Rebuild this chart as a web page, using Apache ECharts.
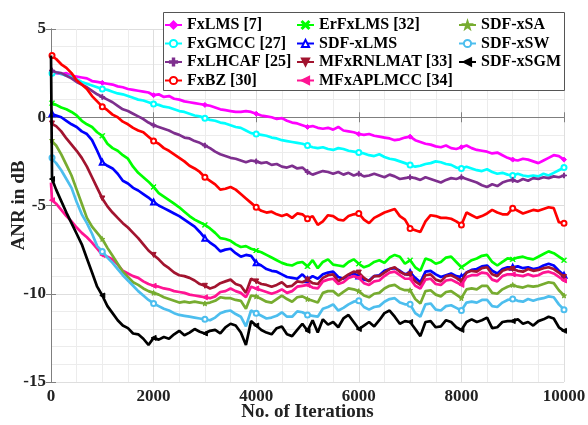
<!DOCTYPE html>
<html>
<head>
<meta charset="utf-8">
<script src="https://cdn.jsdelivr.net/npm/echarts@6/dist/echarts.min.js"></script>
<style>html,body{margin:0;padding:0;background:#fff;}#c{width:588px;height:425px;}</style>
</head>
<body>
<div id="c"></div>
<script>
const iterations = [0,20,
100,200,300,400,500,600,700,800,900,1000,
1100,1200,1300,1400,1500,1600,1700,1800,1900,2000,
2100,2200,2300,2400,2500,2600,2700,2800,2900,3000,
3100,3200,3300,3400,3500,3600,3700,3800,3900,4000,
4100,4200,4300,4400,4500,4600,4700,4800,4900,5000,
5100,5200,5300,5400,5500,5600,5700,5800,5900,6000,
6100,6200,6300,6400,6500,6600,6700,6800,6900,7000,
7100,7200,7300,7400,7500,7600,7700,7800,7900,8000,
8100,8200,8300,8400,8500,8600,8700,8800,8900,9000,
9100,9200,9300,9400,9500,9600,9700,9800,9900,10000];

const xTicks = [0,2000,4000,6000,8000,10000];
const yTicks = [-15,-10,-5,0,5];

const seriesNames = ['FxLMS [7]','FxGMCC [27]','FxLHCAF [25]','FxBZ [30]','ErFxLMS [32]','SDF-xLMS','MFxRNLMAT [33]','MFxAPLMCC [34]','SDF-xSA','SDF-xSW','SDF-xSGM'];

const fxlms = [2.55,2.55,
2.5,2.45,2.5,2.35,2.3,2.25,2.2,2.05,2.0,1.95,
1.9,1.85,1.75,1.7,1.6,1.55,1.5,1.45,1.4,1.25,
1.3,1.15,1.2,1.05,1.0,0.9,0.85,0.8,0.75,0.7,
0.65,0.55,0.45,0.4,0.35,0.3,0.3,0.35,0.3,0.2,
0.1,0.05,0.0,-0.1,-0.05,-0.2,-0.3,-0.35,-0.45,-0.55,
-0.5,-0.6,-0.65,-0.6,-0.7,-0.55,-0.75,-0.8,-0.85,-0.95,
-1.0,-0.95,-1.05,-1.1,-1.15,-1.2,-1.3,-1.25,-1.15,-1.1,
-1.3,-1.4,-1.5,-1.55,-1.65,-1.7,-1.6,-1.75,-1.8,-1.7,
-1.6,-1.75,-1.85,-1.9,-1.95,-2.05,-2.0,-2.15,-2.3,-2.4,
-2.45,-2.35,-2.4,-2.5,-2.6,-2.45,-2.3,-2.15,-2.2,-2.4];

const fxgmcc = [2.5,2.5,
2.55,2.45,2.35,2.3,2.15,2.0,1.9,1.8,1.7,1.6,
1.55,1.45,1.35,1.3,1.2,1.1,1.0,0.95,0.85,0.75,
0.7,0.6,0.55,0.45,0.35,0.3,0.2,0.1,0.05,-0.05,
-0.15,-0.2,-0.3,-0.35,-0.45,-0.55,-0.6,-0.75,-0.9,-0.95,
-1.0,-1.05,-1.15,-1.2,-1.3,-1.35,-1.4,-1.45,-1.5,-1.6,
-1.7,-1.75,-1.7,-1.8,-1.85,-1.75,-1.8,-1.9,-1.95,-2.0,
-2.05,-2.15,-2.2,-2.1,-2.25,-2.35,-2.4,-2.5,-2.6,-2.7,
-2.8,-2.75,-2.65,-2.6,-2.5,-2.55,-2.65,-2.7,-2.85,-2.9,
-2.8,-2.9,-3.0,-3.05,-2.95,-3.1,-3.2,-3.15,-3.25,-3.3,
-3.2,-3.3,-3.35,-3.3,-3.35,-3.2,-3.3,-3.15,-3.0,-2.85];

const fxlhcaf = [2.65,2.65,
2.55,2.5,2.35,2.2,2.0,1.85,1.7,1.5,1.3,1.15,
1.0,0.85,0.65,0.45,0.35,0.2,0.05,-0.1,-0.3,-0.45,
-0.55,-0.65,-0.75,-0.9,-1.0,-1.15,-1.2,-1.35,-1.45,-1.6,
-1.75,-1.95,-2.1,-2.2,-2.3,-2.35,-2.45,-2.55,-2.45,-2.5,
-2.6,-2.55,-2.7,-2.65,-2.8,-2.85,-2.75,-2.9,-2.85,-3.1,
-3.25,-3.15,-3.05,-3.1,-3.2,-3.1,-3.25,-3.15,-3.3,-3.2,
-3.35,-3.3,-3.2,-3.3,-3.4,-3.25,-3.35,-3.5,-3.45,-3.4,
-3.45,-3.55,-3.4,-3.5,-3.6,-3.7,-3.55,-3.45,-3.5,-3.4,
-3.5,-3.6,-3.7,-3.85,-3.95,-3.8,-3.9,-3.7,-3.6,-3.55,
-3.65,-3.5,-3.6,-3.45,-3.5,-3.4,-3.45,-3.35,-3.4,-3.3];

const fxbz = [3.5,3.5,
3.3,3.0,2.8,2.5,2.1,1.85,1.6,1.2,0.9,0.6,
0.4,0.15,0.0,-0.25,-0.4,-0.6,-0.75,-0.85,-1.1,-1.35,
-1.5,-1.75,-1.9,-2.1,-2.3,-2.5,-2.75,-2.9,-3.1,-3.4,
-3.6,-3.8,-4.1,-4.05,-3.95,-4.1,-4.35,-4.6,-4.85,-5.1,
-5.3,-5.4,-5.35,-5.5,-5.6,-5.5,-5.7,-5.45,-5.5,-5.75,
-5.6,-6.1,-5.9,-5.55,-5.6,-5.8,-5.85,-5.6,-5.5,-5.45,
-5.8,-6.0,-5.7,-5.55,-5.4,-5.3,-5.2,-5.6,-5.8,-6.3,
-6.4,-6.5,-5.9,-5.55,-5.6,-5.7,-5.7,-5.75,-5.9,-6.1,
-5.4,-5.55,-5.7,-5.6,-5.45,-5.25,-5.4,-5.5,-5.5,-5.15,
-5.3,-5.45,-5.35,-5.25,-5.3,-5.2,-5.1,-5.15,-5.95,-6.0];

const erfxlms = [0.8,0.8,
0.7,0.55,0.45,0.3,0.1,-0.2,-0.4,-0.55,-0.85,-1.05,
-1.5,-1.75,-1.9,-2.15,-2.35,-2.8,-3.15,-3.4,-3.65,-3.95,
-4.3,-4.5,-4.7,-4.9,-5.1,-5.35,-5.6,-5.8,-5.95,-6.1,
-6.3,-6.55,-6.85,-6.9,-7.0,-7.2,-7.35,-7.3,-7.45,-7.55,
-7.65,-7.8,-7.95,-8.1,-8.25,-8.35,-8.4,-8.25,-8.2,-8.45,
-8.1,-8.55,-8.2,-8.05,-8.35,-8.4,-8.45,-8.2,-8.05,-8.3,
-8.5,-8.4,-8.2,-8.1,-8.25,-7.95,-7.8,-7.9,-8.3,-8.1,
-8.5,-8.7,-8.0,-8.1,-8.3,-8.2,-7.95,-7.9,-8.2,-8.5,
-8.3,-8.1,-8.0,-7.85,-7.8,-8.2,-8.4,-8.2,-8.0,-8.05,
-7.95,-7.9,-8.0,-8.05,-7.9,-7.75,-7.6,-7.7,-7.9,-8.1];

const sdfxlms = [0.2,0.2,
0.1,0.0,-0.2,-0.4,-0.55,-0.8,-0.95,-1.3,-1.9,-2.55,
-2.75,-2.9,-3.2,-3.6,-3.75,-4.0,-4.15,-4.35,-4.55,-4.8,
-5.0,-5.15,-5.3,-5.45,-5.6,-5.8,-6.0,-6.2,-6.5,-6.85,
-7.1,-7.3,-7.6,-7.5,-7.45,-7.7,-7.9,-7.8,-7.85,-8.25,
-8.4,-8.6,-8.7,-8.75,-8.9,-9.05,-9.1,-9.15,-8.9,-9.2,
-9.0,-9.15,-8.9,-8.8,-8.75,-9.05,-9.15,-8.95,-8.85,-9.0,
-9.2,-9.25,-9.0,-8.95,-8.7,-8.6,-8.55,-8.7,-8.9,-8.8,
-9.1,-9.35,-8.75,-8.7,-8.9,-9.05,-8.95,-8.85,-9.0,-9.05,
-8.8,-8.65,-8.6,-8.45,-8.4,-8.7,-8.85,-8.6,-8.5,-8.5,
-8.45,-8.55,-8.5,-8.6,-8.55,-8.4,-8.3,-8.4,-8.7,-8.95];

const mfxrnlmat = [-0.35,-0.35,
-0.5,-0.8,-1.2,-1.55,-1.9,-2.3,-2.8,-3.4,-4.0,-4.6,
-5.05,-5.4,-5.7,-6.0,-6.25,-6.55,-6.85,-7.2,-7.55,-7.8,
-8.05,-8.35,-8.55,-8.8,-8.95,-9.0,-9.1,-9.25,-9.45,-9.55,
-9.7,-9.6,-9.4,-9.3,-9.2,-9.45,-9.55,-9.95,-9.15,-9.3,
-9.45,-9.5,-9.6,-9.5,-9.35,-9.6,-9.55,-9.3,-9.35,-9.2,
-9.4,-9.45,-9.1,-8.95,-8.9,-9.3,-9.1,-8.9,-8.75,-8.8,
-9.1,-9.3,-9.0,-9.0,-8.8,-8.6,-8.5,-8.75,-8.9,-8.9,
-9.3,-9.5,-8.95,-8.9,-9.2,-9.3,-9.0,-8.95,-9.1,-9.3,
-8.8,-8.7,-8.75,-8.55,-8.5,-8.9,-9.0,-8.7,-8.6,-8.6,
-8.7,-8.75,-8.6,-8.7,-8.65,-8.55,-8.5,-8.6,-8.8,-9.05];

const mfxaplmcc = [-3.7,-4.7,
-4.9,-5.25,-5.6,-5.9,-6.25,-6.55,-6.8,-7.1,-7.45,-7.8,
-7.9,-8.05,-8.35,-8.7,-8.85,-9.0,-9.1,-9.3,-9.45,-9.55,
-9.6,-9.7,-9.75,-9.85,-9.9,-9.95,-10.05,-10.1,-10.15,-10.2,
-10.25,-10.15,-9.9,-9.85,-9.7,-9.85,-9.95,-10.2,-9.6,-9.7,
-9.8,-9.9,-10.0,-9.9,-9.75,-9.95,-9.85,-9.6,-9.55,-9.5,
-9.65,-9.7,-9.3,-9.2,-9.15,-9.45,-9.35,-9.1,-9.0,-9.1,
-9.4,-9.5,-9.3,-9.25,-9.0,-8.8,-8.75,-8.95,-9.15,-9.15,
-9.55,-9.7,-9.2,-9.15,-9.45,-9.5,-9.25,-9.2,-9.35,-9.5,
-9.05,-8.95,-8.95,-8.8,-8.85,-9.2,-9.3,-9.0,-8.9,-8.9,
-8.95,-9.0,-8.9,-9.0,-8.95,-8.8,-8.75,-8.85,-9.05,-9.25];

const sdfxsa = [-1.3,-1.3,
-1.6,-2.1,-2.7,-3.3,-4.1,-4.9,-5.7,-6.2,-6.55,-6.9,
-7.4,-7.85,-8.3,-8.75,-9.05,-9.35,-9.5,-9.7,-9.85,-9.95,
-10.05,-10.2,-10.3,-10.4,-10.5,-10.45,-10.5,-10.45,-10.5,-10.55,
-10.5,-10.4,-10.2,-10.25,-10.25,-10.35,-10.4,-10.85,-10.1,-10.15,
-10.3,-10.45,-10.5,-10.3,-10.1,-10.3,-10.45,-10.2,-10.15,-10.3,
-10.4,-10.5,-9.95,-9.85,-9.85,-10.1,-9.9,-9.7,-9.75,-9.85,
-10.1,-10.2,-10.0,-9.95,-9.7,-9.55,-9.5,-9.7,-9.8,-9.8,
-10.3,-10.55,-9.85,-9.8,-10.05,-10.15,-9.9,-9.85,-10.05,-10.25,
-9.75,-9.7,-9.75,-9.55,-9.55,-9.95,-10.0,-9.75,-9.6,-9.5,
-9.6,-9.65,-9.55,-9.6,-9.55,-9.45,-9.35,-9.4,-9.8,-10.1];

const sdfxsw = [-2.3,-2.3,
-2.6,-3.0,-3.5,-4.0,-4.8,-5.5,-6.0,-6.6,-7.3,-7.6,
-7.95,-8.25,-8.6,-8.95,-9.25,-9.55,-9.85,-10.1,-10.35,-10.55,
-10.7,-10.85,-10.95,-11.1,-11.2,-11.25,-11.3,-11.35,-11.4,-11.45,
-11.5,-11.35,-11.1,-11.0,-10.95,-11.15,-11.3,-11.85,-10.95,-11.1,
-11.25,-11.4,-11.35,-11.25,-11.05,-11.3,-11.3,-11.0,-11.05,-11.2,
-11.25,-11.3,-10.85,-10.75,-10.6,-10.95,-10.8,-10.6,-10.45,-10.4,
-10.75,-10.9,-10.75,-10.7,-10.45,-10.3,-10.25,-10.5,-10.6,-10.6,
-11.1,-11.3,-10.6,-10.55,-10.9,-10.95,-10.7,-10.65,-10.8,-10.95,
-10.5,-10.45,-10.5,-10.35,-10.35,-10.7,-10.75,-10.5,-10.35,-10.3,
-10.4,-10.45,-10.3,-10.4,-10.3,-10.25,-10.15,-10.2,-10.6,-10.9];

const sdfxsgm = [3.5,-3.5,
-4.1,-4.75,-5.4,-6.0,-6.6,-7.2,-8.0,-8.8,-9.6,-10.1,
-10.7,-11.1,-11.5,-11.8,-11.95,-12.25,-12.3,-12.55,-12.9,-12.5,
-12.6,-12.45,-12.55,-12.3,-12.1,-12.35,-12.2,-12.0,-12.15,-12.25,
-12.1,-12.05,-12.25,-11.9,-11.7,-11.8,-12.2,-12.9,-11.55,-11.8,
-12.05,-12.2,-12.3,-11.95,-11.85,-12.3,-12.4,-12.05,-11.7,-12.1,
-11.5,-12.2,-11.45,-11.75,-11.6,-11.9,-11.4,-11.2,-11.6,-12.0,
-11.8,-11.6,-11.85,-11.5,-11.1,-10.95,-11.3,-11.7,-11.55,-11.6,
-12.0,-12.4,-11.6,-11.55,-11.9,-11.85,-11.5,-11.6,-11.9,-12.05,
-11.6,-11.45,-11.6,-11.5,-11.35,-11.95,-11.9,-11.6,-11.55,-11.55,
-11.45,-11.7,-11.6,-11.8,-11.55,-11.45,-11.3,-11.4,-11.9,-12.1];

const seriesValues = [fxlms,fxgmcc,fxlhcaf,fxbz,erfxlms,sdfxlms,mfxrnlmat,mfxaplmcc,sdfxsa,sdfxsw,sdfxsgm];
const seriesColors = ['#FF00FF','#00FFFF','#7E2F8E','#FF0000','#00FF00','#0000FF','#A2142F','#FF1493','#77AC30','#4DBEEE','#000000'];
const P_PLUS = 'path://M4,0h2v4h4v2h-4v4h-2v-4h-4v-2h4z';
const P_CROSS = 'path://M1,0L5,4L9,0L10,1L6,5L10,9L9,10L5,6L1,10L0,9L4,5L0,1z';
const P_STAR = 'path://M5,0L6.2,3.6L10,3.6L7,5.9L8.1,9.5L5,7.3L1.9,9.5L3,5.9L0,3.6L3.8,3.6z';
const P_TDOWN = 'path://M0,0L10,0L5,9z';
const P_TLEFT = 'path://M0,5L9,0L9,10z';
const seriesSymbols = ['diamond','emptyCircle',P_PLUS,'emptyCircle',P_CROSS,'emptyTriangle',P_TDOWN,P_TLEFT,P_STAR,'emptyCircle',P_TLEFT];

const FONT = 'Liberation Serif';
const chart = echarts.init(document.getElementById('c'), null, {renderer:'canvas'});

const series = seriesNames.map((name, i) => ({
  name: name,
  type: 'line',
  data: iterations.map((x, k) => [x, seriesValues[i][k]]),
  xAxisIndex: 0, yAxisIndex: 0,
  symbol: seriesSymbols[i],
  showSymbol: true,
  showAllSymbol: true,
  symbolSize: function (v, p) {
    const k = p.dataIndex;
    return (k === 1 || (k >= 2 && (k - 1) % 10 === 0)) ? 5 : 0;
  },
  lineStyle: {color: seriesColors[i], width: 2.7},
  itemStyle: {color: seriesColors[i], borderColor: seriesColors[i], borderWidth: 1},
  emphasis: {disabled: true},
  silent: true,
  z: 2 + i * 0.01
}));

function legendCol(names, left) {
  return {
    data: names, orient: 'vertical', left: left, top: 17, padding: 0,
    itemWidth: 17, itemHeight: 9, itemGap: 2.5,
    textStyle: {fontFamily: FONT, fontWeight: 'bold', fontSize: 16, color: '#000'},
    selectedMode: false, z: 10
  };
}

const axisCommon = {
  axisLine: {show: true, lineStyle: {color: '#7f7f7f', width: 1}},
  axisTick: {show: true, inside: true, length: 5, lineStyle: {color: '#7f7f7f'}}
};

chart.setOption({
  animation: false,
  backgroundColor: '#fff',
  grid: {left: 51, right: 24, top: 29, bottom: 43, containLabel: false, outerBoundsMode: 'none'},
  legend: [
    legendCol(seriesNames.slice(0,4), 164),
    legendCol(seriesNames.slice(4,8), 296),
    legendCol(seriesNames.slice(8,11), 458)
  ],
  graphic: [{
    type: 'rect', left: 163, top: 12, z: 9,
    shape: {width: 401, height: 78},
    style: {fill: '#fff', stroke: '#555', lineWidth: 1}
  }],
  xAxis: [{
    type: 'value', min: xTicks[0], max: xTicks[xTicks.length-1], interval: 2000,
    name: 'No. of Iterations', nameLocation: 'middle', nameGap: 21, nameMoveOverlap: false,
    nameTextStyle: {fontFamily: FONT, fontWeight: 'bold', fontSize: 19, color: '#222'},
    axisLine: axisCommon.axisLine, axisTick: axisCommon.axisTick,
    axisLabel: {margin: 6, fontFamily: FONT, fontWeight: 'bold', fontSize: 17, color: '#222',
      formatter: function (v) { return String(v); }},
    splitLine: {show: true, lineStyle: {color: '#dedede', width: 1}},
    minorTick: {show: false, splitNumber: 4},
    minorSplitLine: {show: true, lineStyle: {color: '#ececec', width: 1}}
  }, {
    type: 'value', position: 'top', min: 0, max: 10000, interval: 2000,
    axisLine: axisCommon.axisLine, axisTick: axisCommon.axisTick,
    axisLabel: {show: false}, splitLine: {show: false}
  }],
  yAxis: [{
    type: 'value', min: yTicks[0], max: yTicks[yTicks.length-1], interval: 5,
    name: 'ANR in dB', nameLocation: 'middle', nameGap: 22, nameMoveOverlap: false,
    nameTextStyle: {fontFamily: FONT, fontWeight: 'bold', fontSize: 19, color: '#222'},
    axisLine: axisCommon.axisLine, axisTick: axisCommon.axisTick,
    axisLabel: {margin: 5, fontFamily: FONT, fontWeight: 'bold', fontSize: 17, color: '#222',
      formatter: function (v) { return String(v); }},
    splitLine: {show: true, lineStyle: {color: '#dedede', width: 1}},
    minorTick: {show: false, splitNumber: 5},
    minorSplitLine: {show: true, lineStyle: {color: '#ececec', width: 1}}
  }, {
    type: 'value', position: 'right', min: -15, max: 5, interval: 5,
    axisLine: axisCommon.axisLine, axisTick: axisCommon.axisTick,
    axisLabel: {show: false}, splitLine: {show: false}
  }],
  series: series
});
</script>
</body>
</html>
